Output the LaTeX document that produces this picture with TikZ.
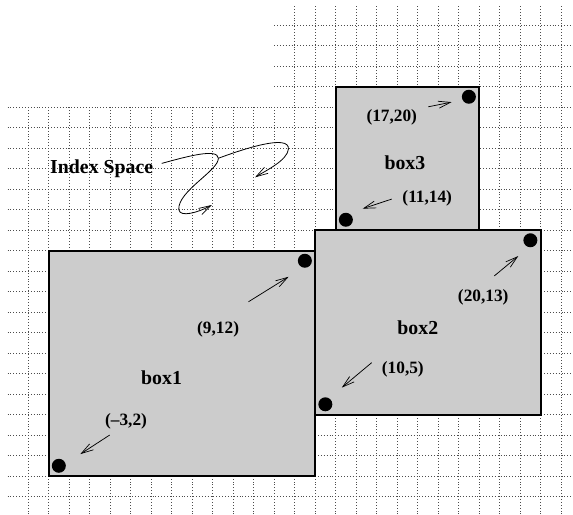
\documentclass[tikz,border=0pt]{standalone}
\usepackage{fontspec}
\setmainfont{Liberation Serif}
\usetikzlibrary{arrows.meta}
\begin{document}
\begin{tikzpicture}[x=20.5bp,y=20.5bp,
  gridline/.style={black!70,line width=0.6bp,dash pattern=on 0.7bp off 2.2bp},
  boxshape/.style={draw=black,fill=black!20,line width=2bp},
  corner/.style={circle,fill=black,inner sep=0pt,minimum size=14bp},
  pointer/.style={line width=0.75bp,-{Straight Barb[length=12bp,width=7bp,line width=0.7bp]}},
  curvy/.style={line width=0.8bp,-{Straight Barb[length=12bp,width=7bp,line width=0.7bp]}},
  coordlabel/.style={inner sep=0pt,font=\bfseries\fontsize{17.3bp}{20bp}\selectfont},
  boxlabel/.style={inner sep=0pt,font=\bfseries\fontsize{19.8bp}{23bp}\selectfont}]
\useasboundingbox (-5.37,0.1) rectangle (22.58,25.22);
% grid
\foreach \i in {-4,...,8} \draw[gridline] (\i,0) -- (\i,20);
\foreach \i in {9,...,22} \draw[gridline] (\i,0) -- (\i,25);
\foreach \j in {1,...,20} \draw[gridline] (-5,\j) -- (23,\j);
\foreach \j in {21,...,24} \draw[gridline] (8,\j) -- (23,\j);
% boxes
\draw[boxshape] (-3,2) rectangle (10,13);
\draw[boxshape] (10,5) rectangle (21,14);
\draw[boxshape] (11,14) rectangle (18,21);
% corner dots
\node[corner] (d1) at (-2.5,2.5) {};
\node[corner] (d2) at (9.5,12.5) {};
\node[corner] (d3) at (10.5,5.5) {};
\node[corner] (d4) at (20.5,13.5) {};
\node[corner] (d5) at (11.5,14.5) {};
\node[corner] (d6) at (17.5,20.5) {};
% labels
\node[coordlabel] (l1) at (0.78,4.68) {(–3,2)};
\node[coordlabel] (l2) at (5.27,9.17) {(9,12)};
\node[boxlabel] (b1) at (2.51,6.8) {box1};
\node[coordlabel] (l3) at (14.28,7.22) {(10,5)};
\node[boxlabel] (b2) at (15.01,9.23) {box2};
\node[coordlabel] (l4) at (18.2,10.72) {(20,13)};
\node[coordlabel] (l6) at (13.74,19.48) {(17,20)};
\node[boxlabel] (b3) at (14.38,17.28) {box3};
\node[coordlabel] (l5) at (15.47,15.55) {(11,14)};
\node[boxlabel] (idx) at (-0.41,17.0) {Index Space};
% arrow ends
\coordinate (s1) at (-0.02,4.0);   \coordinate (e1) at (-1.45,3.07);
\coordinate (s2) at (6.75,10.5);   \coordinate (e2) at (8.71,11.72);
\coordinate (s3) at (12.76,7.53);  \coordinate (e3) at (11.3,6.31);
\coordinate (s4) at (18.74,11.76); \coordinate (e4) at (19.91,12.73);
\coordinate (s5) at (15.52,20.01); \coordinate (e5) at (16.66,20.24);
\coordinate (s6) at (13.74,15.51); \coordinate (e6) at (12.32,15.04);
\draw[pointer] (s1) -- (e1);
\draw[pointer] (s2) -- (e2);
\draw[pointer] (s3) -- (e3);
\draw[pointer] (s4) -- (e4);
\draw[pointer] (s5) -- (e5);
\draw[pointer] (s6) -- (e6);
% index space curves
\coordinate (cs) at (2.52,17.25);
\coordinate (cj) at (5.28,17.5);
\coordinate (cb) at (3.35,15.0);
\coordinate (t1) at (4.96,15.22);
\coordinate (t2) at (7.07,16.57);
\draw[curvy] (cs) .. controls (3.8,17.6) and (5.25,18.0) .. (cj)
  .. controls (5.3,16.9) and (3.3,15.9) .. (cb)
  .. controls (3.4,14.6) and (4.3,14.85) .. (t1);
\draw[curvy] (cj) .. controls (6.5,17.95) and (8.75,18.7) .. (8.7,17.95)
  .. controls (8.65,17.4) and (7.6,16.9) .. (t2);
\end{tikzpicture}
\end{document}
